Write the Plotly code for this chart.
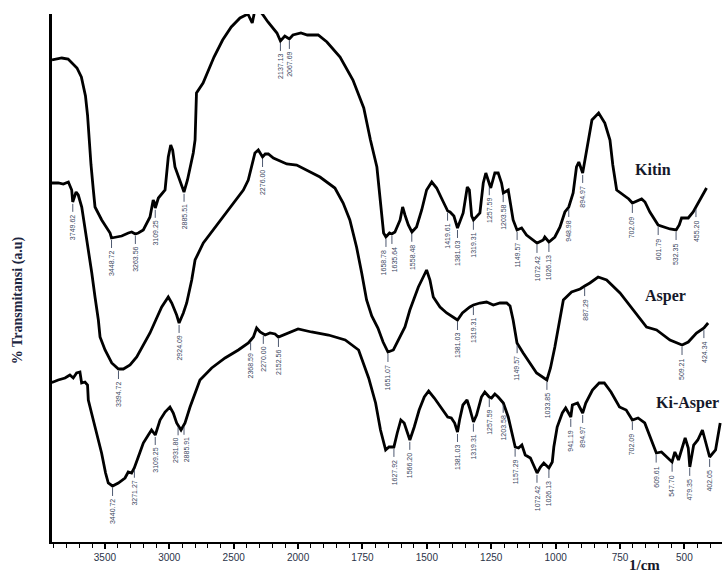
import numpy as np
import plotly.graph_objects as go

# FTIR spectra: wavenumber (cm-1) and stacked transmittance (a.u.)
kitin_wn = [3911, 3835, 3786, 3717, 3683, 3651, 3635, 3623, 3608, 3590, 3577, 3525, 3460, 3449, 3420,
            3370, 3318, 3292, 3264, 3241, 3202, 3150, 3125, 3118, 3109, 3085, 3033, 3008, 2989, 2974,
            2956, 2930, 2911, 2886, 2859, 2814, 2800, 2789, 2738, 2704, 2653, 2586, 2519, 2451, 2390,
            2356, 2340, 2316, 2283, 2234, 2164, 2137, 2103, 2068, 2040, 1989, 1964, 1922, 1888, 1837,
            1787, 1745, 1719, 1694, 1682, 1675, 1668, 1659, 1645, 1636, 1624, 1604, 1594, 1585, 1572,
            1558, 1540, 1520, 1501, 1481, 1462, 1436, 1419, 1410, 1395, 1381, 1359, 1343, 1335, 1326,
            1319, 1294, 1281, 1271, 1258, 1252, 1236, 1223, 1210, 1203, 1184, 1177, 1165, 1150, 1132,
            1113, 1087, 1072, 1048, 1042, 1026, 1003, 983, 964, 949, 932, 919, 910, 895, 886,
            867, 859, 833, 809, 789, 778, 763, 738, 716, 702, 666, 653, 634, 602, 582,
            556, 532, 520, 511, 485, 466, 455, 433, 414]
kitin_t = [482, 484, 483, 474, 465, 446, 427, 402, 377, 352, 335, 322, 309, 304, 305,
           306, 309, 310, 308, 309, 312, 325, 342, 340, 334, 344, 352, 385, 397, 392,
           375, 366, 359, 350, 362, 389, 402, 449, 459, 470, 485, 502, 515, 524, 528,
           519, 529, 530, 529, 520, 509, 501, 506, 503, 507, 509, 507, 507, 500, 485,
           462, 434, 402, 375, 344, 322, 309, 305, 309, 308, 310, 322, 335, 327, 317,
           310, 315, 332, 352, 360, 354, 340, 331, 330, 326, 314, 329, 355, 352, 326,
           322, 329, 359, 369, 357, 354, 369, 369, 359, 349, 352, 339, 322, 312, 314,
           307, 302, 299, 302, 305, 300, 305, 315, 330, 335, 349, 375, 380, 369, 382,
           409, 422, 429, 419, 402, 377, 352, 347, 343, 339, 343, 340, 330, 317, 315,
           313, 312, 317, 324, 324, 330, 335, 344, 354]

asper_wn = [3911, 3862, 3823, 3784, 3758, 3750, 3724, 3707, 3680, 3655, 3629, 3602, 3577, 3551, 3538,
            3499, 3447, 3395, 3357, 3305, 3253, 3202, 3150, 3098, 3059, 3008, 2981, 2943, 2924, 2891,
            2865, 2826, 2800, 2736, 2658, 2581, 2503, 2425, 2387, 2360, 2335, 2309, 2276, 2255, 2231,
            2192, 2088, 2011, 1967, 1915, 1857, 1825, 1799, 1773, 1753, 1734, 1714, 1690, 1670, 1651,
            1630, 1611, 1585, 1566, 1533, 1514, 1501, 1488, 1475, 1449, 1423, 1381, 1362, 1333, 1319,
            1294, 1268, 1242, 1216, 1190, 1177, 1165, 1150, 1126, 1100, 1074, 1034, 1020, 1003, 990,
            970, 938, 905, 887, 867, 835, 802, 750, 699, 647, 608, 556, 509, 485, 453,
            433, 424, 408]
asper_t = [359, 359, 358, 360, 352, 340, 350, 347, 335, 315, 292, 269, 245, 222, 205,
           192, 179, 173, 173, 177, 185, 197, 209, 224, 235, 245, 239, 227, 219, 229,
           239, 262, 282, 299, 312, 325, 339, 352, 362, 375, 389, 392, 385, 388, 388,
           384, 378, 377, 372, 365, 354, 339, 322, 295, 269, 242, 226, 214, 200, 190,
           192, 202, 215, 232, 255, 265, 272, 262, 245, 235, 229, 222, 229, 235, 237,
           239, 240, 237, 239, 239, 236, 222, 199, 189, 179, 169, 162, 174, 195, 215,
           242, 250, 253, 256, 259, 265, 262, 249, 232, 215, 212, 202, 197, 200, 209,
           212, 214, 219]

kiasper_wn = [4000, 3979, 3940, 3901, 3863, 3810, 3772, 3746, 3720, 3694, 3681, 3655, 3635, 3629, 3604,
              3565, 3526, 3495, 3474, 3441, 3396, 3344, 3319, 3293, 3272, 3241, 3202, 3163, 3138, 3109,
              3072, 3033, 2995, 2969, 2943, 2909, 2878, 2839, 2800, 2762, 2671, 2567, 2464, 2386, 2347,
              2322, 2295, 2256, 2218, 2179, 2153, 2075, 2000, 1948, 1882, 1817, 1765, 1726, 1699, 1680,
              1660, 1647, 1628, 1615, 1601, 1588, 1576, 1566, 1549, 1530, 1510, 1493, 1471, 1445, 1419,
              1405, 1392, 1381, 1373, 1360, 1344, 1334, 1319, 1307, 1288, 1275, 1258, 1249, 1236, 1223,
              1203, 1184, 1170, 1157, 1144, 1131, 1118, 1098, 1072, 1059, 1046, 1026, 1013, 1007, 994,
              974, 961, 941, 935, 915, 895, 883, 857, 831, 811, 785, 752, 726, 702, 680,
              654, 628, 609, 589, 548, 537, 523, 497, 485, 479, 464, 448, 430, 402, 379,
              361]
kiasper_t = [160, 163, 159, 160, 162, 164, 167, 164, 169, 170, 159, 160, 157, 142, 129,
             109, 89, 69, 59, 56, 59, 64, 70, 69, 74, 85, 99, 107, 112, 107,
             122, 130, 135, 129, 119, 112, 119, 135, 149, 162, 174, 184, 192, 199, 205,
             214, 210, 207, 209, 208, 205, 209, 213, 210, 207, 202, 192, 164, 139, 112,
             92, 95, 95, 109, 122, 119, 109, 102, 115, 132, 145, 151, 144, 134, 125,
             124, 119, 110, 122, 137, 142, 134, 120, 127, 145, 150, 145, 144, 148, 145,
             139, 125, 109, 95, 94, 97, 87, 84, 69, 75, 79, 74, 80, 95, 115,
             129, 134, 125, 137, 139, 129, 139, 152, 159, 159, 150, 135, 132, 122, 124,
             119, 102, 89, 90, 80, 90, 82, 104, 94, 75, 97, 102, 112, 85, 92,
             119]

# Band positions annotated under each spectrum
kitin_peaks = [3448.72, 3263.56, 3109.25, 2885.51, 2137.13, 2067.69, 1658.78, 1635.64, 1558.48,
               1419.61, 1381.03, 1319.31, 1257.59, 1203.58, 1149.57, 1072.42, 1026.13, 948.98,
               894.97, 702.09, 601.79, 532.35, 455.20]
asper_peaks = [3749.62, 3394.72, 2924.09, 2276.00, 1651.07, 1381.03, 1319.31, 1149.57, 1033.85,
               887.29, 509.21, 424.34]
kiasper_peaks = [3440.72, 3271.27, 3109.25, 2931.80, 2885.91, 2368.59, 2270.00, 2152.56, 1627.92,
                 1566.20, 1381.03, 1319.31, 1257.59, 1203.58, 1157.29, 1072.42, 1026.13, 941.19,
                 894.97, 702.09, 609.61, 547.70, 479.35, 402.05]

tick_wn = [4000, 3500, 3000, 2500, 2000, 1750, 1500, 1250, 1000, 750, 500]
series_names = ["Kitin", "Asper", "Ki-Asper"]

# small sideways nudges (px) that keep crowded band labels apart
label_nudge = {("Kitin", 1658.78): -3, ("Kitin", 1635.64): 3,
               ("Ki-Asper", 2931.80): -2, ("Ki-Asper", 2885.91): 2}


def to_axis(wn):
    """Instrument-style abscissa: 4000-2000 cm-1 at half scale, below 2000 at full scale."""
    wn = np.asarray(wn, dtype=float)
    return np.where(wn >= 2000, (4000 - wn) / 2.0, 1000 + (2000 - wn))


LABEL_COLOR = "#3a4660"
fig = go.Figure()

spectra = [
    (kitin_wn, kitin_t, kitin_peaks),
    (asper_wn, asper_t, asper_peaks),
    (kiasper_wn, kiasper_t, kiasper_peaks),
]

annotations = []
for (wn, tr, peaks), name in zip(spectra, series_names):
    fig.add_trace(go.Scatter(x=to_axis(wn), y=tr, mode="lines", name=name,
                             line=dict(color="black", width=2.8), hoverinfo="skip"))
    # short leader lines hanging below each annotated band
    wn_asc = np.asarray(wn, float)[::-1]
    tr_asc = np.asarray(tr, float)[::-1]
    lx, ly = [], []
    for p in peaks:
        yv = float(np.interp(p, wn_asc, tr_asc))
        xp = float(to_axis(p))
        lx += [xp, xp, None]
        ly += [yv - 2, yv - 10, None]
        annotations.append(dict(x=xp, y=yv - 11, xref="x", yref="y", text=f"{p:.2f}",
                                textangle=-90, xanchor="center", yanchor="top", showarrow=False,
                                xshift=label_nudge.get((name, p), 0),
                                font=dict(family="Liberation Sans, Arial, sans-serif", size=7,
                                          color=LABEL_COLOR)))
    fig.add_trace(go.Scatter(x=lx, y=ly, mode="lines", showlegend=False, hoverinfo="skip",
                             line=dict(color=LABEL_COLOR, width=0.9)))

serif = "Liberation Serif, Times New Roman, serif"
name_pos = [(0.897, 0.706), (0.915, 0.466), (0.949, 0.263)]
for name, (px, py) in zip(series_names, name_pos):
    annotations.append(dict(x=px, y=py, xref="paper", yref="paper", text=f"<b>{name}</b>",
                            showarrow=False, xanchor="center", yanchor="middle",
                            font=dict(family=serif, size=16, color="#15182a")))

annotations.append(dict(x=0.885, y=-0.0436, xref="paper", yref="paper", text="<b>1/cm</b>",
                        showarrow=False, xanchor="center", yanchor="middle",
                        font=dict(family=serif, size=15, color="#15182a")))
annotations.append(dict(x=-0.0507, y=0.458, xref="paper", yref="paper",
                        text="<b>% Transmitansi (a.u)</b>", textangle=-90, showarrow=False,
                        xanchor="center", yanchor="middle",
                        font=dict(family=serif, size=14, color="#1b2540")))

fig.update_layout(
    width=722, height=574,
    margin=dict(l=52, r=0, t=14, b=32),
    paper_bgcolor="white", plot_bgcolor="white",
    showlegend=False,
    annotations=annotations,
    xaxis=dict(range=[float(to_axis(3911)), float(to_axis(354))],
               tickmode="array", tickvals=to_axis(tick_wn).tolist(),
               ticktext=[str(t) for t in tick_wn],
               ticks="outside", ticklen=5, tickwidth=1.6, tickcolor="black",
               minor=dict(tickmode="linear", tick0=0, dtick=50, ticks="outside",
                          ticklen=4, tickwidth=1, tickcolor="black", showgrid=False),
               tickfont=dict(family="Liberation Sans, Arial, sans-serif", size=10,
                             color="#2a3348"),
               showline=True, linecolor="black", linewidth=2,
               showgrid=False, zeroline=False),
    yaxis=dict(range=[0, 528], showline=True, linecolor="black", linewidth=3,
               showticklabels=False, ticks="", showgrid=False, zeroline=False),
)

fig.write_html("out.html")
